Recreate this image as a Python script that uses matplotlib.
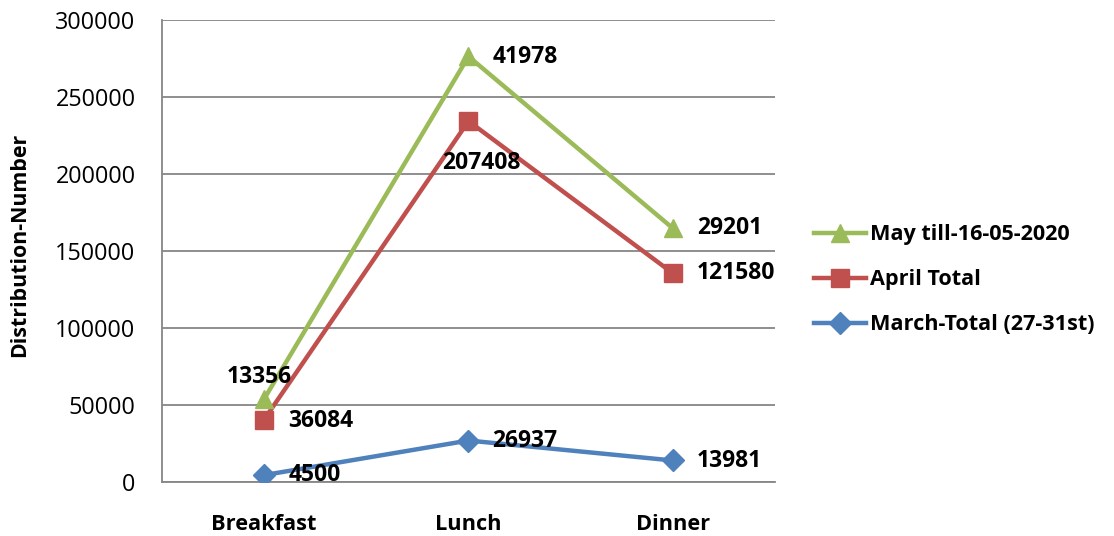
import matplotlib.pyplot as plt
import numpy as np

plt.rcParams['font.family'] = ['Open Sans', 'DejaVu Sans']

meals = ['Breakfast', 'Lunch', 'Dinner']
march = [4500, 26937, 13981]
april = [36084, 207408, 121580]
may = [13356, 41978, 29201]

# stacked line chart: each series is drawn on top of the previous ones
march_cum = np.array(march)
april_cum = march_cum + np.array(april)
may_cum = april_cum + np.array(may)

fig = plt.figure(figsize=(11.14, 5.36), dpi=100)
ax = fig.add_axes([0.1454, 0.1007, 0.5503, 0.862])

x = np.arange(len(meals))
l_mar, = ax.plot(x, march_cum, color='#4F81BD', lw=3.2, marker='D', ms=11,
                 label='March-Total (27-31st)', zorder=3)
l_apr, = ax.plot(x, april_cum, color='#C0504D', lw=3.2, marker='s', ms=13,
                 label='April Total', zorder=3)
l_may, = ax.plot(x, may_cum, color='#9BBB59', lw=3.2, marker='^', ms=13,
                 label='May till-16-05-2020', zorder=3)

# data label offsets in pixels (dx, dy, ha)
offs = {
    'march': [(24, 0, 'left'), (24, 0, 'left'), (24, -1, 'left')],
    'april': [(24, -1, 'left'), (13, -42, 'center'), (24, 0, 'left')],
    'may': [(-5, 22, 'center'), (24, -1, 'left'), (24, 0, 'left')],
}
for name, vals, ys in [('march', march, march_cum), ('april', april, april_cum), ('may', may, may_cum)]:
    for i in range(3):
        dx, dy, ha = offs[name][i]
        ax.annotate(str(vals[i]), (x[i], ys[i]), xytext=(dx, dy), textcoords='offset pixels',
                    ha=ha, va='center', fontsize=16.5, fontweight='bold', zorder=4)

ax.set_xlim(-0.5, 2.5)
ax.set_ylim(0, 300000)
ax.set_yticks(np.arange(0, 300001, 50000))
ax.set_xticks(x)
ax.set_xticklabels(meals, fontsize=15.7, fontweight='bold')
ax.tick_params(axis='y', labelsize=16.8, length=0, pad=19)
ax.tick_params(axis='x', length=0, pad=23)
ax.yaxis.grid(True, color='#868686', lw=1.3)
ax.set_axisbelow(True)
for s in ['top', 'right']:
    ax.spines[s].set_visible(False)
ax.spines['left'].set_color('#868686')
ax.spines['left'].set_linewidth(1.3)
ax.spines['bottom'].set_color('#868686')
ax.spines['bottom'].set_linewidth(1.3)
fig.text(20 / 1114, 0.543, 'Distribution-Number', rotation=90, ha='center', va='center',
         fontsize=15.4, fontweight='bold')

fig.legend(handles=[l_may, l_apr, l_mar], loc='center left', bbox_to_anchor=(0.713, 0.478),
           frameon=False, prop={'size': 15.6, 'weight': 'bold'}, handlelength=2.4,
           handletextpad=0.18, labelspacing=1.1)

fig.savefig('out.png', dpi=100)
